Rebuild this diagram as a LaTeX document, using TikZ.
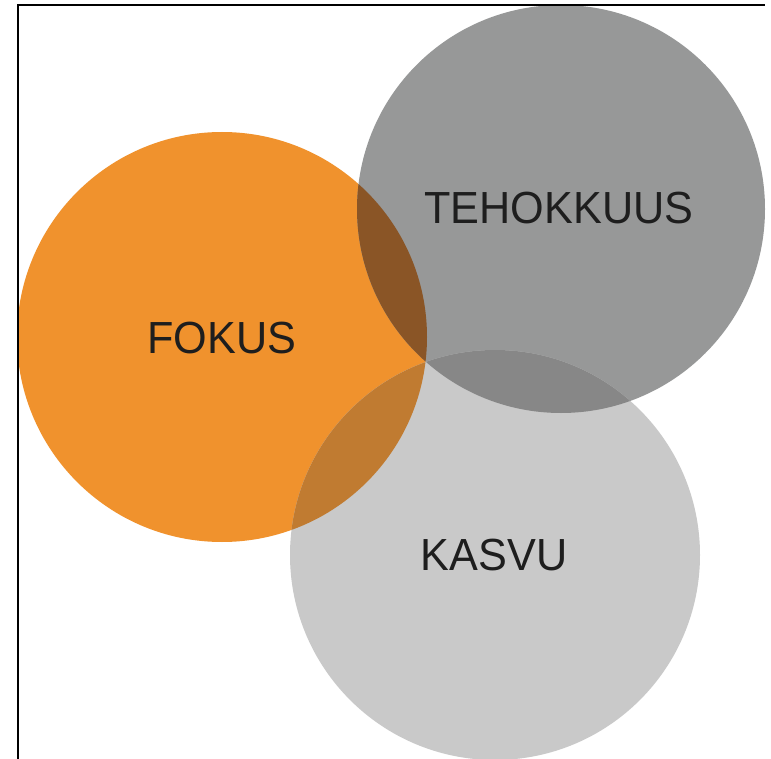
\documentclass[tikz,border=0pt]{standalone}
\usepackage{fontspec}
\setmainfont{Liberation Sans}
\definecolor{cOrange}{HTML}{F0922D}
\definecolor{cDark}{HTML}{979898}
\definecolor{cLight}{HTML}{C9C9C9}
\definecolor{cOD}{HTML}{8A5526}
\definecolor{cDL}{HTML}{878787}
\definecolor{cOL}{HTML}{C07B31}
\definecolor{cText}{HTML}{1E1E1E}
\tikzset{
  lbl/.style={text=cText, font=\fontsize{45}{45}\selectfont, inner sep=0pt, xscale=0.96},
  frameline/.style={line width=1.5pt, black}
}
\begin{document}
\begin{tikzpicture}[x=1pt,y=-1pt]
\useasboundingbox (0,0) rectangle (771,759);
\fill[white] (0,0) rectangle (771,759);
\coordinate (cO) at (222,337);
\coordinate (cD) at (561,209);
\coordinate (cL) at (495,555);
\fill[cOrange] (cO) circle[radius=205];
\fill[cDark] (cD) circle[radius=204];
\fill[cLight] (cL) circle[radius=205];
\begin{scope}
  \clip (cO) circle[radius=205];
  \fill[cOD] (cD) circle[radius=204];
\end{scope}
\begin{scope}
  \clip (cO) circle[radius=205];
  \fill[cOL] (cL) circle[radius=205];
\end{scope}
\begin{scope}
  \clip (cD) circle[radius=204];
  \fill[cDL] (cL) circle[radius=205];
\end{scope}
\coordinate (tl) at (18,5);
\coordinate (tr) at (765,5);
\coordinate (bl) at (18,759);
\draw[frameline] (bl) -- (tl) -- (tr);
\node[lbl] (fokus) at (222,338) {FOKUS};
\node[lbl] (teho) at (559,208) {TEHOKKUUS};
\node[lbl] (kasvu) at (494,555) {KASVU};
\end{tikzpicture}
\end{document}
